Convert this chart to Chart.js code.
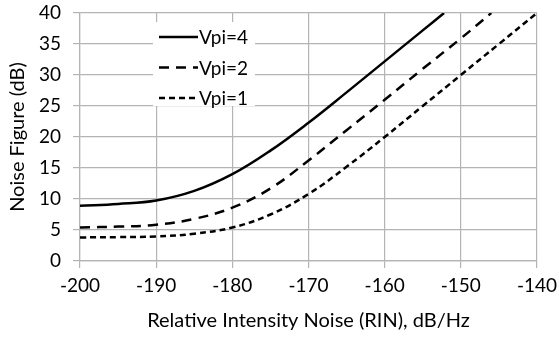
<!DOCTYPE html>
<html>
<head>
<meta charset="utf-8">
<script src="https://cdn.jsdelivr.net/npm/chart.js@4"></script>
<style>
  html, body { margin: 0; padding: 0; background: #fff; }
  #wrap { width: 559px; height: 337px; }
</style>
</head>
<body>
<div id="wrap"><canvas id="c" width="559" height="337"></canvas></div>
<script>
// RIN values (dB/Hz) and noise figure (dB)
const rin4 = [-200, -195, -190, -185, -180, -175, -170, -165, -160, -155, -152.2]
const nf4 = [8.9, 9.2, 9.75, 11.3, 14.0, 17.8, 22.3, 27.2, 32.2, 37.2, 40]

const rin2 = [-200, -195, -190, -185, -180, -175, -170, -165, -160, -155, -150, -146]
const nf2 = [5.4, 5.55, 5.85, 6.8, 8.6, 11.7, 16.2, 21.1, 26.0, 31.0, 35.9, 40]

const rin1 = [-200, -195, -190, -185, -180, -175, -170, -165, -160, -155, -150, -145, -140]
const nf1 = [3.8, 3.85, 3.95, 4.4, 5.4, 7.5, 10.8, 15.2, 20.0, 25.0, 30.0, 35.0, 40]

const labels = ['Vpi=4', 'Vpi=2', 'Vpi=1']
const xTicks = [-200, -190, -180, -170, -160, -150, -140]
const yTicks = [0, 5, 10, 15, 20, 25, 30, 35, 40]

const FONT = 'Lato, "Open Sans", sans-serif'
const GRID = '#b4b4b4'

const toPoints = (xs, ys) => xs.map((x, i) => ({ x, y: ys[i] }))

// draws the boxed legend inside the plot, like the original
const boxLegend = {
  id: 'boxLegend',
  afterDatasetsDraw (chart) {
    const ctx = chart.ctx
    const a = chart.chartArea
    const left = a.left + 73
    const top = a.top + 9
    ctx.save()
    ctx.fillStyle = '#fff'
    ctx.fillRect(left, top, 102, 84)
    chart.data.datasets.forEach((ds, i) => {
      const y = top + 15 + i * 30.5
      ctx.beginPath()
      ctx.setLineDash(ds.borderDash || [])
      ctx.lineWidth = ds.borderWidth
      ctx.strokeStyle = ds.borderColor
      ctx.moveTo(left + 6, y)
      ctx.lineTo(left + 45, y)
      ctx.stroke()
      ctx.setLineDash([])
      ctx.fillStyle = '#000'
      ctx.font = '19px ' + FONT
      ctx.textBaseline = 'middle'
      ctx.fillText(ds.label, left + 46, y + 1)
    })
    ctx.restore()
  }
}

const config = {
  type: 'line',
  data: {
    datasets: [
      { label: labels[0], data: toPoints(rin4, nf4), borderDash: [] },
      { label: labels[1], data: toPoints(rin2, nf2), borderDash: [10, 7] },
      { label: labels[2], data: toPoints(rin1, nf1), borderDash: [6, 4] }
    ].map(d => ({
      ...d,
      borderColor: '#000',
      borderWidth: 2.5,
      pointRadius: 0,
      fill: false,
      tension: 0.4
    }))
  },
  options: {
    responsive: false,
    animation: false,
    layout: { padding: 0 },
    plugins: { legend: { display: false }, tooltip: { enabled: false } },
    scales: {
      x: {
        type: 'linear',
        min: -200,
        max: -140,
        afterBuildTicks: s => { s.ticks = xTicks.map(v => ({ value: v })) },
        afterFit: s => {
          s.height = 76
          s.paddingLeft = 0
          s.paddingRight = 22
        },
        grid: { color: GRID, tickLength: 7, lineWidth: 1.2 },
        border: { color: GRID, width: 1.2 },
        ticks: { color: '#000', font: { family: FONT, size: 19 }, padding: 6, maxRotation: 0 },
        title: {
          display: true,
          text: 'Relative Intensity Noise (RIN), dB/Hz',
          color: '#000',
          font: { family: FONT, size: 20 },
          padding: { top: 4, bottom: 4 }
        }
      },
      y: {
        type: 'linear',
        min: 0,
        max: 40,
        afterBuildTicks: s => { s.ticks = yTicks.map(v => ({ value: v })) },
        afterFit: s => {
          s.width = 80
          s.paddingTop = 13
          s.paddingBottom = 0
        },
        grid: { color: GRID, tickLength: 7, lineWidth: 1.2 },
        border: { color: GRID, width: 1.2 },
        ticks: { color: '#000', font: { family: FONT, size: 19 }, padding: 12 },
        title: {
          display: true,
          text: 'Noise Figure (dB)',
          color: '#000',
          font: { family: FONT, size: 20 },
          padding: { top: 6, bottom: 0 }
        }
      }
    }
  },
  plugins: [boxLegend]
}

new Chart(document.getElementById('c').getContext('2d'), config)
</script>
</body>
</html>
